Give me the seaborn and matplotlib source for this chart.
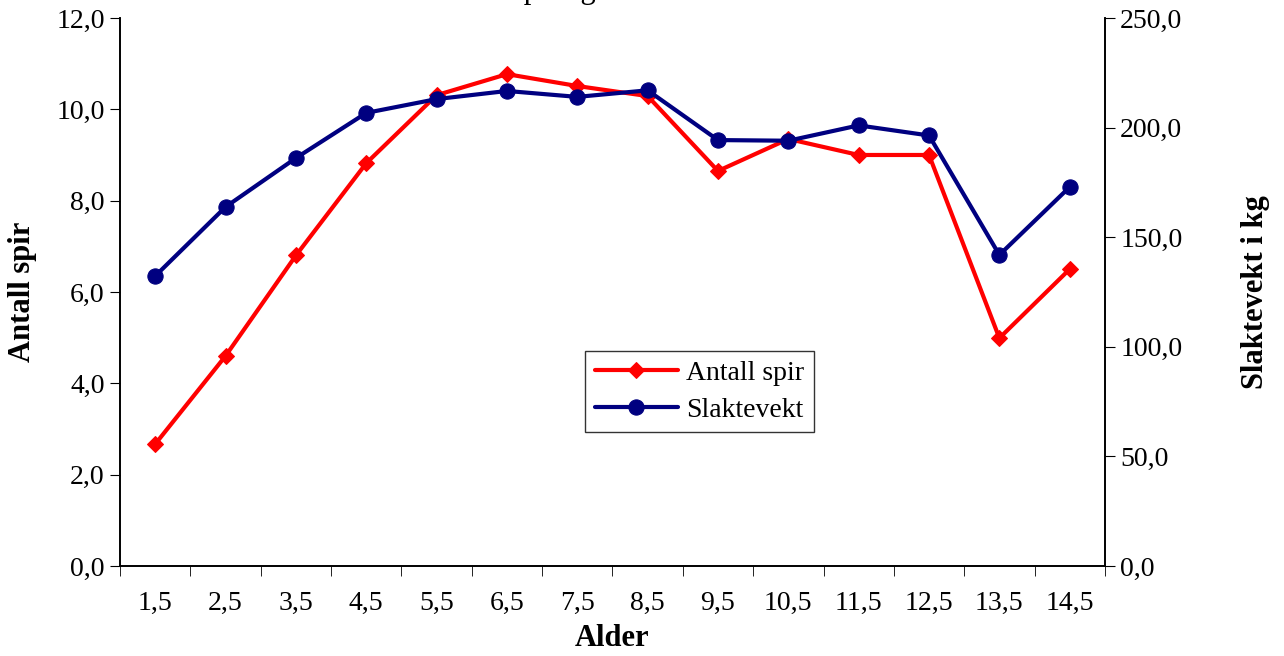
import matplotlib
matplotlib.use("Agg")
import matplotlib.pyplot as plt
import numpy as np
import seaborn as sns
from matplotlib.ticker import FixedLocator, FuncFormatter

alder = ["1,5", "2,5", "3,5", "4,5", "5,5", "6,5", "7,5", "8,5", "9,5",
         "10,5", "11,5", "12,5", "13,5", "14,5"]
antall_spir = [2.67, 4.6, 6.8, 8.82, 10.31, 10.77, 10.51, 10.29, 8.65,
               9.35, 9.0, 9.0, 4.99, 6.5]
slaktevekt = [132.3, 163.8, 186.1, 206.7, 213.0, 216.7, 214.0, 217.0, 194.3,
              194.0, 201.0, 196.4, 141.9, 172.9]

sns.set_style("ticks")
plt.rcParams["font.family"] = ["Liberation Serif", "DejaVu Serif"]
plt.rcParams["text.color"] = "black"
plt.rcParams["axes.labelcolor"] = "black"
plt.rcParams["xtick.color"] = "black"
plt.rcParams["ytick.color"] = "black"

fig = plt.figure(figsize=(12.84, 6.56), dpi=100)
ax = fig.add_axes([0.0935, 0.1372, 0.767, 0.8354])
ax2 = ax.twinx()
x = np.arange(len(alder))

sns.lineplot(x=x, y=antall_spir, ax=ax, color="#ff0000", lw=3, marker="D",
             markersize=8, markeredgecolor="#ff0000", label="Antall spir", legend=False)
sns.lineplot(x=x, y=slaktevekt, ax=ax2, color="#000080", lw=3, marker="o",
             markersize=11, markeredgecolor="#000080", label="Slaktevekt", legend=False)

ax.set_xlim(-0.5, len(alder) - 0.5)
ax.set_ylim(0, 12)
ax2.set_ylim(0, 250)
ax.set_xticks(x)
ax.set_xticklabels(alder)
ax.xaxis.set_minor_locator(FixedLocator(np.arange(-0.5, len(alder), 1)))
ax.tick_params(axis="x", which="major", length=0, labelsize=20, pad=18)
ax.tick_params(axis="x", which="minor", length=7, direction="out")
ax.set_yticks(np.arange(0, 12.1, 2))
ax2.set_yticks(np.arange(0, 251, 50))
fmt = FuncFormatter(lambda v, p: f"{v:.1f}".replace(".", ","))
ax.yaxis.set_major_formatter(fmt)
ax2.yaxis.set_major_formatter(fmt)
ax.tick_params(axis="y", labelsize=20, length=7, direction="out", pad=4)
ax2.tick_params(axis="y", labelsize=20, length=7, direction="out", pad=4)
for a in (ax, ax2):
    for s in a.spines.values():
        s.set_linewidth(1.2)
        s.set_color("black")
ax.spines["top"].set_visible(False)
ax2.spines["top"].set_visible(False)

ax.set_xlabel("Alder", fontsize=22, fontweight="bold", labelpad=6)
ax.set_ylabel("Antall spir", fontsize=22, fontweight="bold", labelpad=14)
ax2.set_ylabel("Slaktevekt i kg", fontsize=22, fontweight="bold", labelpad=42)

fig.text(0.5, 1.015, "Antall spir og slaktevekt etter alder", ha="center",
         va="center", fontsize=22)

h1, l1 = ax.get_legend_handles_labels()
h2, l2 = ax2.get_legend_handles_labels()
leg = ax2.legend(h1 + h2, l1 + l2, loc="upper left",
                 bbox_to_anchor=(0.458, 0.418), fontsize=20, frameon=True,
                 fancybox=False, edgecolor="black", handlelength=3,
                 handletextpad=0.3, borderpad=0.35, labelspacing=0.4)
leg.get_frame().set_linewidth(1)

fig.savefig("out.png", dpi=100)
